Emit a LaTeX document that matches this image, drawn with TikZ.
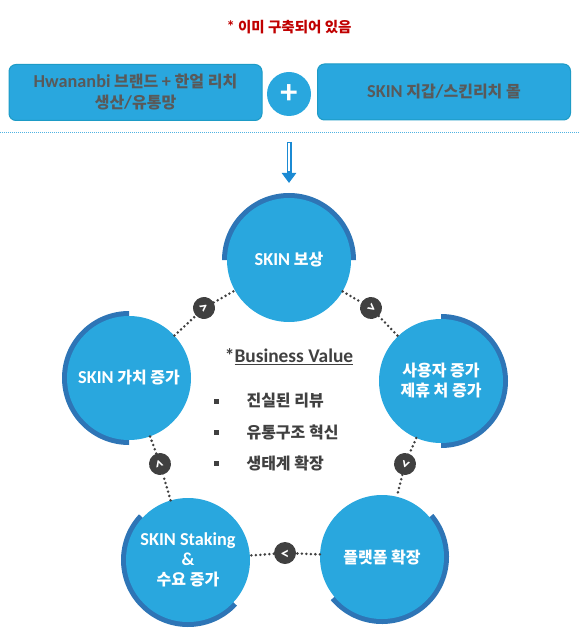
\documentclass[tikz,border=0pt]{standalone}
\usepackage{fontspec}
\setmainfont{Noto Sans CJK KR}
\newfontfamily\en[Scale=1.14]{Carlito}
\usetikzlibrary{arrows.meta}

\definecolor{skyblue}{HTML}{29A7DE}
\definecolor{rimblue}{HTML}{2E75B6}
\definecolor{boxline}{HTML}{1D9BC6}
\definecolor{arrowblue}{HTML}{1B8AD3}
\definecolor{sepblue}{HTML}{4FB3E3}
\definecolor{textgray}{HTML}{595959}
\definecolor{dotgray}{HTML}{404040}
\definecolor{warnred}{HTML}{C00000}

\begin{document}
\begin{tikzpicture}[x=1pt, y=1pt,
  topbox/.style={draw=boxline, line width=1pt, fill=skyblue, rounded corners=7pt,
    minimum width=253pt, minimum height=56pt, align=center, text=textgray,
    font=\bfseries\fontsize{16}{21}\selectfont},
  stage/.style={circle, fill=skyblue, minimum size=124pt, inner sep=0pt,
    align=center, text=white, font=\bfseries\fontsize{16}{20}\selectfont},
  flow/.style={circle, fill=dotgray, minimum size=22pt, inner sep=0pt,
    text=white, font=\en\bfseries\fontsize{15}{15}\selectfont},
  link/.style={dotgray, line width=2.8pt, line cap=round, dash pattern=on 0pt off 4.5pt},
  sqdot/.style={fill=dotgray, minimum size=5pt, inner sep=0pt},
  valueitem/.style={anchor=west, text=dotgray, font=\bfseries\fontsize{16}{16}\selectfont}]
  \useasboundingbox (0,0) rectangle (580,-628);
  % Note at top
  \node[text=warnred, font=\bfseries\fontsize{14.5}{15}\selectfont] (note) at (289,-27) {{\en *} 이미 구축되어 있음};
  % Parts already built
  \node[topbox] (brand) at (135.5,-92.5) {{\en Hwananbi} 브랜드 {\en +} 한얼 리치\\생산{\en /}유통망};
  \node[circle, fill=skyblue, minimum size=44pt, inner sep=0pt, text=white,
    font=\en\bfseries\fontsize{30}{30}\selectfont] (plus) at (289,-94) {+};
  \node[topbox] (wallet) at (444,-92) {{\en SKIN} 지갑{\en /}스킨리치 몰};
  % Separator
  \draw[sepblue, line width=1pt, dash pattern=on 1pt off 1pt] (0,-133) -- (580,-133);
  % Arrow down
  \coordinate (drop) at (289,-142);
  \coordinate (land) at (289,-183);
  \draw[arrowblue, line width=5pt, -{Triangle[length=10pt, width=14pt]}] (drop) -- (land);
  \draw[white, line width=1.2pt] (289,-143) -- (289,-171);
  % Dark rims
  \foreach \cx/\cy/\a in {289/260/0, 441/381/-90, 382/557/-140, 188/560/137, 129/378/90} {
    \fill[rimblue] (\cx,-\cy) ++(\a:67) arc[start angle=\a, end angle=\a+180, radius=67] -- cycle;
  }
  % Cycle stages
  \node[stage] (reward) at (289,-260) {{\en SKIN} 보상};
  \node[stage] (users) at (441,-381) {사용자 증가\\제휴 처 증가};
  \node[stage] (platform) at (382,-557) {플랫폼 확장};
  \node[stage] (staking) at (188,-560) {{\en SKIN Staking}\\{\en \&}\\수요 증가};
  \node[stage] (worth) at (129,-378) {{\en SKIN} 가치 증가};
  % Flow marks
  \node[flow, rotate=36] (f1) at (204,-308) {>};
  \node[flow, rotate=-38] (f2) at (371,-308) {>};
  \node[flow, rotate=-108] (f3) at (405,-464) {>};
  \node[flow, rotate=180] (f4) at (285,-553) {>};
  \node[flow, rotate=108] (f5) at (160,-464) {>};
  \draw[link] (worth) -- (f1) -- (reward);
  \draw[link] (reward) -- (f2) -- (users);
  \draw[link] (users) -- (f3) -- (platform);
  \draw[link] (platform) -- (f4) -- (staking);
  \draw[link] (staking) -- (f5) -- (worth);
  % Business value
  \node[text=dotgray, font=\en\bfseries\fontsize{17}{17}\selectfont] (value) at (289,-357) {*\underline{Business Value}};
  \foreach \i/\txt in {1/진실된 리뷰, 2/유통구조 혁신, 3/생태계 확장} {
    \node[sqdot] (b\i) at (216,-370-31*\i) {};
    \node[valueitem] (v\i) at (243,-370-31*\i) {\txt};
  }
\end{tikzpicture}
\end{document}
